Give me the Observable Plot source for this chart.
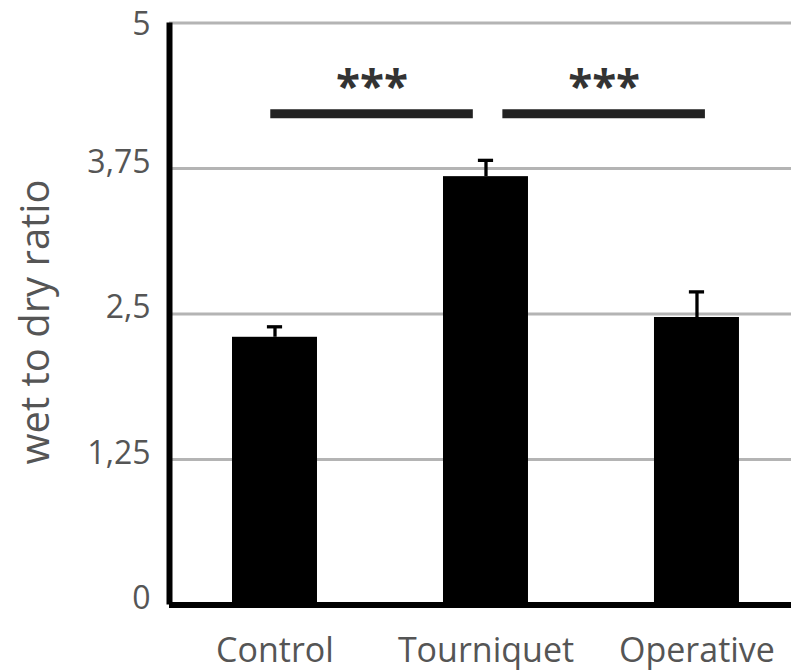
<!DOCTYPE html>
<html><head><meta charset="utf-8">
<script src="https://cdn.jsdelivr.net/npm/d3@7"></script>
<script src="https://cdn.jsdelivr.net/npm/@observablehq/plot@0.6"></script>
<style>body{margin:0;background:#fff} svg{display:block}</style>
</head><body><div id="chart"></div>
<script>
const categories = ["Control", "Tourniquet", "Operative"];
const means = [2.30, 3.68, 2.47];
const errors = [0.09, 0.14, 0.22];
const yTicks = [0, 1.25, 2.5, 3.75, 5];
const yTickLabels = ["0", "1,25", "2,5", "3,75", "5"];
const sigLabels = ["***", "***"];
const sigStart = [-0.02, 1.08];
const sigEnd = [0.94, 2.04];
const sigLevel = [4.22, 4.22];
const yLabel = "wet to dry ratio";

const data = categories.map((c, i) => ({c, i, mean: means[i], top: means[i] + errors[i]}));
const sig = sigLabels.map((l, k) => ({l, x1: sigStart[k], x2: sigEnd[k], xm: (sigStart[k] + sigEnd[k]) / 2, y: sigLevel[k]}));

const barHalf = 0.2014, capHalf = 0.036;
const xDomain = [-0.5, 2.448];
const yMax = yTicks[yTicks.length - 1];
const fmtY = d => yTickLabels[yTicks.indexOf(d)];

const chart = Plot.plot({
  width: 791, height: 672,
  marginLeft: 169, marginRight: 0, marginTop: 22.5, marginBottom: 67.5,
  style: {fontFamily: "'Open Sans', sans-serif", background: "white"},
  x: {type: "linear", domain: xDomain, axis: null},
  y: {domain: [0, yMax], axis: null},
  marks: [
    Plot.ruleY(yTicks.filter(t => t > 0), {stroke: "#b4b4b4", strokeWidth: 3}),
    Plot.rectY(data, {x1: d => d.i - barHalf, x2: d => d.i + barHalf, y1: 0, y2: "mean", fill: "black"}),
    Plot.ruleX(data, {x: "i", y1: "mean", y2: "top", stroke: "black", strokeWidth: 3.3}),
    Plot.ruleY(data, {x1: d => d.i - capHalf, x2: d => d.i + capHalf, y: "top", stroke: "black", strokeWidth: 3.3}),
    Plot.ruleY([0], {stroke: "black", strokeWidth: 6}),
    Plot.ruleX([xDomain[0]], {y1: 0, y2: yMax, stroke: "black", strokeWidth: 6}),
    Plot.ruleY(sig, {x1: "x1", x2: "x2", y: "y", stroke: "#222", strokeWidth: 9}),
    Plot.text(sig, {x: "xm", y: "y", text: "l", fontSize: 44, fontWeight: "bold", fill: "#333", lineAnchor: "bottom", dy: -12}),
    Plot.axisY(yTicks.filter(t => t < yMax), {tickSize: 0, tickPadding: 19, tickFormat: fmtY, fontSize: 32, fill: "#555", dy: -6, label: null}),
    Plot.axisY([yMax], {tickSize: 0, tickPadding: 19, tickFormat: fmtY, fontSize: 32, fill: "#555", dy: 2, label: null}),
    Plot.axisX([0, 1, 2], {tickSize: 0, tickPadding: 33, tickFormat: i => categories[i], fontSize: 34, fill: "#555", label: null}),
    Plot.text([yLabel], {frameAnchor: "left", textAnchor: "middle", lineAnchor: "middle", rotate: -90, dx: -133, dy: 8, fontSize: 40, fill: "#555"})
  ]
});
document.getElementById("chart").appendChild(chart);
</script>
</body></html>
